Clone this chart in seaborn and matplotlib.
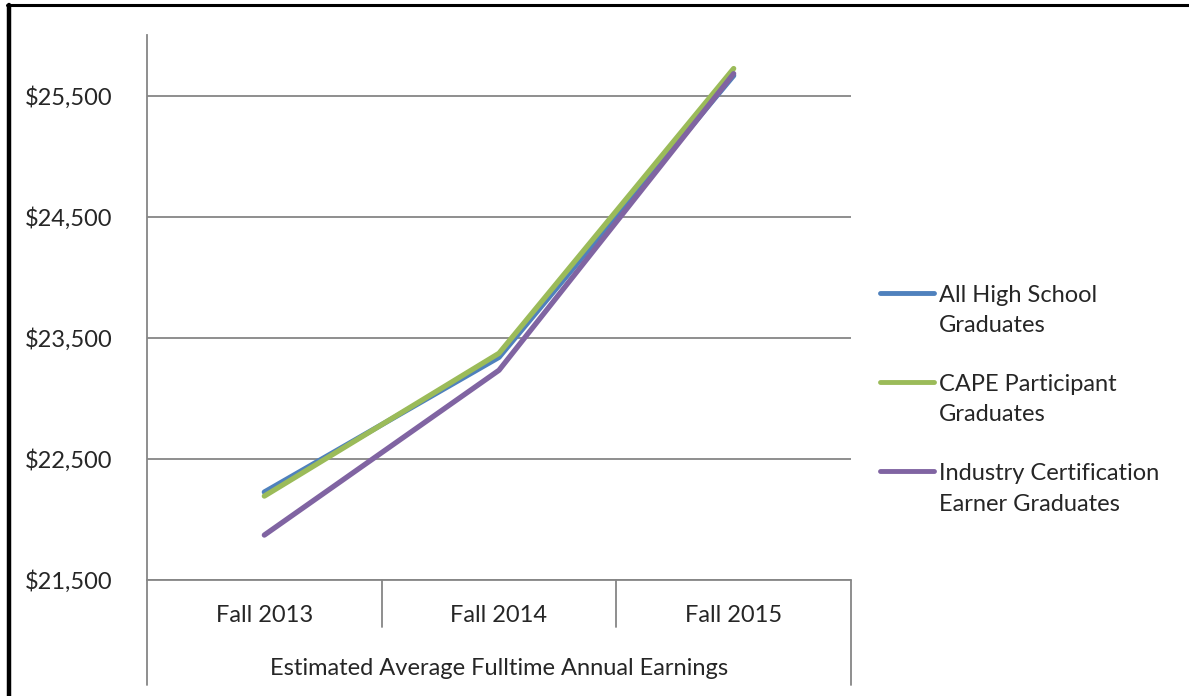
import numpy as np
import pandas as pd
import matplotlib
matplotlib.use('Agg')
import matplotlib.pyplot as plt
import matplotlib.transforms as mtransforms
import seaborn as sns

# values
years = ['Fall 2013', 'Fall 2014', 'Fall 2015']
all_hs = [22226, 23339, 25665]
cape = [22193, 23372, 25723]
industry = [21871, 23232, 25681]
series_names = ['All High School\nGraduates', 'CAPE Participant\nGraduates',
                'Industry Certification\nEarner Graduates']
y_ticks = [21500, 22500, 23500, 24500, 25500]
group_label = 'Estimated Average Fulltime Annual Earnings'

colors = ['#4F81BD', '#9BBB59', '#8064A2']

sns.set_style('white')
plt.rcParams['font.family'] = ['Lato', 'DejaVu Sans']
fs = 17

df = pd.DataFrame({
    'year': years * 3,
    'pos': list(range(len(years))) * 3,
    'earnings': all_hs + cape + industry,
    'series': [series_names[0]] * 3 + [series_names[1]] * 3 + [series_names[2]] * 3,
})

fig = plt.figure(figsize=(11.89, 6.96), dpi=100)
ax = fig.add_axes([147 / 1189, 1 - 580 / 696, (851 - 147) / 1189, (580 - 35) / 696])

grid_c = '#868686'
for t in y_ticks:
    ax.axhline(t, color=grid_c, lw=1.3, zorder=0)

sns.lineplot(data=df, x='pos', y='earnings', hue='series', palette=colors,
             hue_order=series_names, lw=3.8, ax=ax, legend=True,
             solid_capstyle='round', solid_joinstyle='round')

ax.set_xlim(-0.5, 2.5)
ax.set_ylim(21500, 26000)
ax.set_yticks(y_ticks)
ax.set_yticklabels([f'${v:,}' for v in y_ticks], fontsize=fs)
ax.tick_params(axis='y', length=7, width=1.3, color=grid_c, pad=18, direction='out')
ax.set_xticks([])
ax.set_xlabel('')
ax.set_ylabel('')

for s in ['top', 'right', 'bottom']:
    ax.spines[s].set_visible(False)
ax.spines['left'].set_color(grid_c)
ax.spines['left'].set_linewidth(1.3)
ax.spines['left'].set_bounds(21500, 26000)

# category axis drawn like the spreadsheet's two-level axis
trans = mtransforms.blended_transform_factory(ax.transData, ax.transAxes)
ax.plot([-0.5, 2.5], [0, 0], transform=trans, color=grid_c, lw=1.3, clip_on=False)
ax.plot([-0.5, -0.5], [0, -0.193], transform=trans, color=grid_c, lw=1.3, clip_on=False)
ax.plot([2.5, 2.5], [0, -0.193], transform=trans, color=grid_c, lw=1.3, clip_on=False)
for xb in [0.5, 1.5]:
    ax.plot([xb, xb], [0, -0.086], transform=trans, color=grid_c, lw=1.3, clip_on=False)
for i, yr in enumerate(years):
    ax.text(i, -0.066, yr, transform=trans, ha='center', va='center', fontsize=fs)
ax.text(1, -0.163, group_label, transform=trans, ha='center', va='center', fontsize=fs)

leg = ax.legend(loc='upper left', bbox_to_anchor=(880 / 1189, 1 - 285 / 696),
                bbox_transform=fig.transFigure, frameon=False,
                fontsize=fs, handlelength=2.3, handletextpad=0.2,
                labelspacing=1.6, borderaxespad=0, borderpad=0)
for t in leg.get_texts():
    t.set_linespacing(1.55)
for line in leg.get_lines():
    line.set_linewidth(3.5)
    line.set_solid_capstyle('round')
    line.set_ydata(np.asarray(line.get_ydata(), dtype=float) + 13)

# outer black frame (left and top edges visible in reference)
fig.add_artist(plt.Line2D([9 / 1189, 9 / 1189], [0, 1 - 5 / 696], color='black', lw=3.2,
                          transform=fig.transFigure))
fig.add_artist(plt.Line2D([7 / 1189, 1], [1 - 5 / 696, 1 - 5 / 696], color='black', lw=2.2,
                          transform=fig.transFigure))

fig.savefig('out.png', dpi=100)
